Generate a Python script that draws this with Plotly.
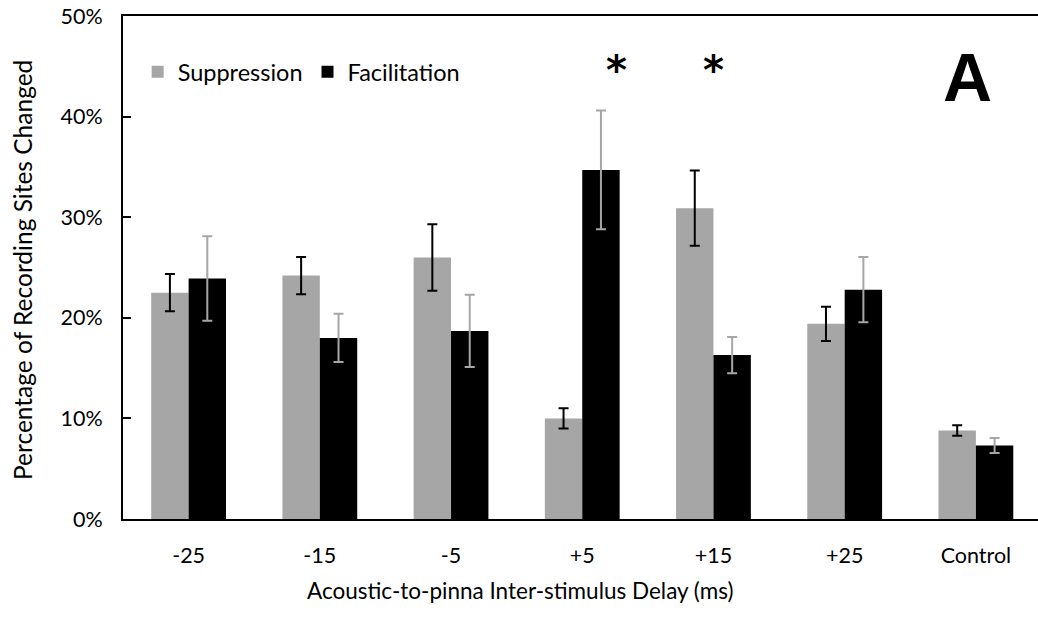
import plotly.graph_objects as go

categories = ["-25", "-15", "-5", "+5", "+15", "+25", "Control"]
suppression = [22.5, 24.2, 26.0, 10.0, 30.9, 19.4, 8.8]
suppression_err = [1.85, 1.85, 3.3, 1.0, 3.75, 1.7, 0.53]
facilitation = [23.9, 18.0, 18.7, 34.7, 16.3, 22.8, 7.3]
facilitation_err = [4.2, 2.4, 3.6, 5.9, 1.8, 3.25, 0.75]
y_ticks = [0, 10, 20, 30, 40, 50]
y_ticktext = ["0%", "10%", "20%", "30%", "40%", "50%"]
significant = ["+5", "+15"]
sig_shift = [34, 0]

FONT = "Lato"

fig = go.Figure()
fig.add_trace(go.Bar(
    name="Suppression", x=categories, y=suppression,
    marker=dict(color="#a6a6a6", line=dict(width=0)),
    error_y=dict(type="data", array=suppression_err, color="#000000",
                 thickness=2, width=5),
))
fig.add_trace(go.Bar(
    name="Facilitation", x=categories, y=facilitation,
    marker=dict(color="#000000", line=dict(width=0)),
    error_y=dict(type="data", array=facilitation_err, color="#a6a6a6",
                 thickness=2, width=5),
))

annotations = []
for c, s in zip(significant, sig_shift):
    annotations.append(dict(x=categories.index(c), y=44.6, xref="x", yref="y",
                            text="<b>*</b>", showarrow=False, xshift=s,
                            xanchor="center", yanchor="middle",
                            font=dict(family="DejaVu Sans", size=40, color="#000")))
annotations.append(dict(x=(967 - 123) / 915, y=43.9, xref="paper", yref="y",
                        xanchor="center", yanchor="middle",
                        text="<b>A</b>", showarrow=False,
                        font=dict(family="Liberation Sans", size=68, color="#000")))
annotations.append(dict(x=(520 - 123) / 915, y=(519 - 590) / 503,
                        xref="paper", yref="paper", xanchor="center", yanchor="middle",
                        text="Acoustic-to-pinna Inter-stimulus Delay (ms)",
                        showarrow=False,
                        font=dict(family=FONT, size=22.5, color="#000")))
annotations.append(dict(x=(22 - 123) / 915, y=0.5 - (267.5 - 265) / 503,
                        xref="paper", yref="paper", textangle=-90,
                        xanchor="center", yanchor="middle",
                        text="Percentage of Recording Sites Changed",
                        showarrow=False,
                        font=dict(family=FONT, size=24.5, color="#000")))

fig.update_layout(
    width=1038, height=618,
    margin=dict(l=123, r=0, t=16, b=99),
    paper_bgcolor="white", plot_bgcolor="white",
    barmode="group", bargap=0.43, bargroupgap=0,
    font=dict(family=FONT, size=20, color="#000"),
    showlegend=True,
    legend=dict(orientation="h", x=0.016, y=1 - (72 - 16) / 503, xanchor="left",
                yanchor="middle", bgcolor="rgba(0,0,0,0)",
                font=dict(family=FONT, size=23.5, color="#000"), itemwidth=30),
    annotations=annotations,
    xaxis=dict(range=[-0.5, -0.5 + 914.2 / 131.1], showline=True, linecolor="#000",
               linewidth=2, mirror=True, ticks="", showgrid=False,
               tickfont=dict(family=FONT, size=21.5, color="#000"),
               ticklabelstandoff=16, fixedrange=True),
    yaxis=dict(range=[0, 50], tickvals=y_ticks, ticktext=y_ticktext, showline=True,
               linecolor="#000", linewidth=2, ticks="inside", ticklen=8,
               tickwidth=2, tickcolor="#000", showgrid=False, zeroline=False,
               tickfont=dict(family=FONT, size=21.5, color="#000"),
               ticklabelstandoff=14, fixedrange=True),
)

fig.write_html("out.html")
